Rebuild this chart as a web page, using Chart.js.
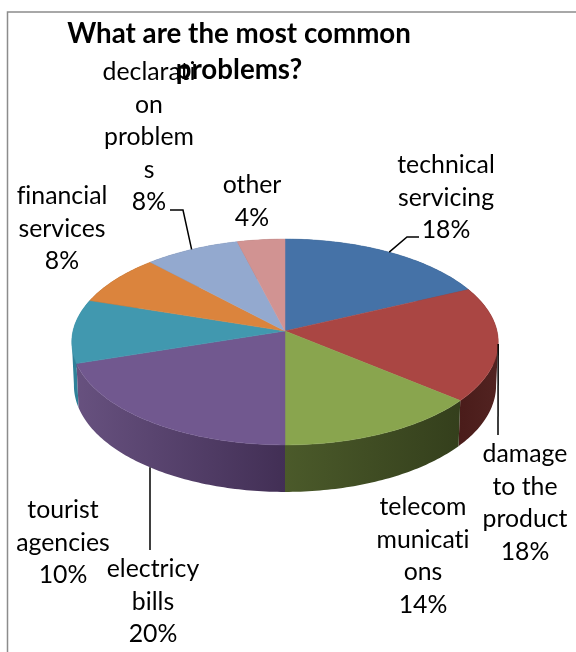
<!DOCTYPE html>
<html>
<head>
<meta charset="utf-8">
<title>What are the most common problems?</title>
<script src="https://cdn.jsdelivr.net/npm/chart.js@4"></script>
<style>
  html, body { margin: 0; background: #fff; }
  canvas { display: block; }
</style>
</head>
<body>
<canvas id="pieChart" width="576" height="652"></canvas>
<script>
const titleLines = ['What are the most common', 'problems?'];
const categories = [
    ['technical', 'servicing'],
    ['damage', 'to the', 'product'],
    ['telecom', 'municati', 'ons'],
    ['electricy', 'bills'],
    ['tourist', 'agencies'],
    ['financial', 'services'],
    ['declarati', 'on', 'problem', 's'],
    ['other']
];
const shares = [18, 18, 14, 20, 10, 8, 8, 4];
const sliceColors = ['#4572A7', '#AA4643', '#89A54E', '#71588F', '#4198AF', '#DB843D', '#93A9CF', '#D19392'];
// left and right colour of each slice's outer wall
const wallColors = [
    ['#2a4465', '#2a4465'],
    ['#4a1c1a', '#522321'],
    ['#4b5a2a', '#343f1c'],
    ['#67517f', '#422f55'],
    ['#2f8199', '#2f8199'],
    ['#8a5226', '#8a5226'],
    ['#5c6b83', '#5c6b83'],
    ['#846059', '#846059']
];
// first baseline and centre of each label
const labelAnchors = [[446, 173], [525, 462], [423, 515], [153, 577], [63, 518], [62, 204], [149, 80], [252, 193]];
// leader lines start on the slice rim and continue through these points
const leaders = { 0: [[407, 237], [419, 237]], 1: [[498, 435]], 3: [[150, 469], [150, 550]], 6: [[183, 210], [170, 210]] };

const TILT = 0.48;         // vertical squash of the disc
const PERSPECTIVE = 0.1068;
const LINE_HEIGHT = 32.5;

// Perspective projection of a point on the disc, given by its angle
function rim(arc, angle) {
    const ux = Math.cos(angle), uy = Math.sin(angle);
    const w = 1 - PERSPECTIVE * uy;
    return {
        x: arc.x + arc.outerRadius * ux / w,
        y: arc.y + arc.outerRadius * TILT * uy / w,
        uy: uy
    };
}

function lowerRim(arc, p) {
    return { x: arc.x + (p.x - arc.x) * 0.99, y: p.y + 43 + 4 * p.uy };
}

function sampleAngles(arc) {
    const steps = Math.max(2, Math.ceil((arc.endAngle - arc.startAngle) * 60));
    const out = [];
    for (let i = 0; i <= steps; i++) {
        out.push(arc.startAngle + (arc.endAngle - arc.startAngle) * i / steps);
    }
    return out;
}

const pie3d = {
    id: 'pie3d',
    beforeDraw(chart) {
        const ctx = chart.ctx;
        ctx.save();
        ctx.fillStyle = '#fff';
        ctx.fillRect(0, 0, chart.width, chart.height);
        // chart frame, running off the right and bottom edges
        ctx.strokeStyle = '#8c8c8c';
        ctx.lineWidth = 1.5;
        ctx.strokeRect(7.5, 12, chart.width + 10, chart.height + 10);
        ctx.restore();
    },
    beforeDatasetsDraw(chart) {
        const ctx = chart.ctx;
        const arcs = chart.getDatasetMeta(0).data;
        ctx.save();

        // outer walls back to front, the top face covers whatever sits behind it
        const midDepth = arc => Math.sin((arc.startAngle + arc.endAngle) / 2);
        const order = arcs.map((arc, i) => i).sort((a, b) => midDepth(arcs[a]) - midDepth(arcs[b]));
        order.forEach(i => {
            const arc = arcs[i];
            const top = sampleAngles(arc).map(a => rim(arc, a));
            const low = top.map(p => lowerRim(arc, p));
            const xs = top.map(p => p.x);
            const grad = ctx.createLinearGradient(Math.min(...xs), 0, Math.max(...xs), 0);
            grad.addColorStop(0, wallColors[i][0]);
            grad.addColorStop(1, wallColors[i][1]);
            ctx.fillStyle = grad;
            // one path per wall so the strip pieces leave no seams; every piece
            // runs left to right, otherwise overlaps cancel out under nonzero fill
            ctx.beginPath();
            for (let n = 0; n < top.length - 1; n++) {
                const a = top[n + 1].x >= top[n].x ? n : n + 1;
                const b = a === n ? n + 1 : n;
                ctx.moveTo(top[a].x, top[a].y);
                ctx.lineTo(top[b].x, top[b].y);
                ctx.lineTo(low[b].x, low[b].y);
                ctx.lineTo(low[a].x, low[a].y);
                ctx.closePath();
            }
            ctx.fill();
        });

        arcs.forEach((arc, i) => {
            ctx.beginPath();
            ctx.moveTo(arc.x, arc.y);
            sampleAngles(arc).forEach(a => {
                const p = rim(arc, a);
                ctx.lineTo(p.x, p.y);
            });
            ctx.closePath();
            ctx.fillStyle = sliceColors[i];
            ctx.strokeStyle = sliceColors[i];
            ctx.lineWidth = 0.5;
            ctx.fill();
            ctx.stroke();
        });

        ctx.restore();
        return false;
    },
    afterDraw(chart) {
        const ctx = chart.ctx;
        const arcs = chart.getDatasetMeta(0).data;
        ctx.save();

        ctx.strokeStyle = '#000';
        ctx.lineWidth = 1.5;
        Object.keys(leaders).forEach(key => {
            const arc = arcs[key];
            let start = rim(arc, (arc.startAngle + arc.endAngle) / 2);
            if (start.uy > 0.3) start = lowerRim(arc, start);
            ctx.beginPath();
            ctx.moveTo(start.x, start.y);
            leaders[key].forEach(p => ctx.lineTo(p[0], p[1]));
            ctx.stroke();
        });

        ctx.fillStyle = '#000';
        ctx.textAlign = 'center';
        ctx.textBaseline = 'alphabetic';
        // a tiny spacing keeps Lato from joining fi and ti into ligatures
        ctx.letterSpacing = '0.01px';
        ctx.font = '24.8px Lato, "Open Sans", sans-serif';
        categories.forEach((lines, i) => {
            const rows = lines.concat(shares[i] + '%');
            rows.forEach((row, n) => {
                ctx.fillText(row, labelAnchors[i][0], labelAnchors[i][1] + n * LINE_HEIGHT);
            });
        });

        ctx.font = 'bold 27.7px Lato, "Open Sans", sans-serif';
        titleLines.forEach((row, n) => ctx.fillText(row, 239, 43 + n * 36));
        ctx.restore();
    }
};

new Chart(document.getElementById('pieChart').getContext('2d'), {
    type: 'pie',
    data: {
        labels: categories.map(lines => lines.join('')),
        datasets: [{
            data: shares,
            backgroundColor: sliceColors,
            borderWidth: 0,
            radius: 212
        }]
    },
    options: {
        responsive: false,
        animation: false,
        layout: { padding: { right: 6, top: 10 } },
        plugins: {
            legend: { display: false },
            tooltip: { enabled: false }
        }
    },
    plugins: [pie3d]
});
</script>
</body>
</html>
